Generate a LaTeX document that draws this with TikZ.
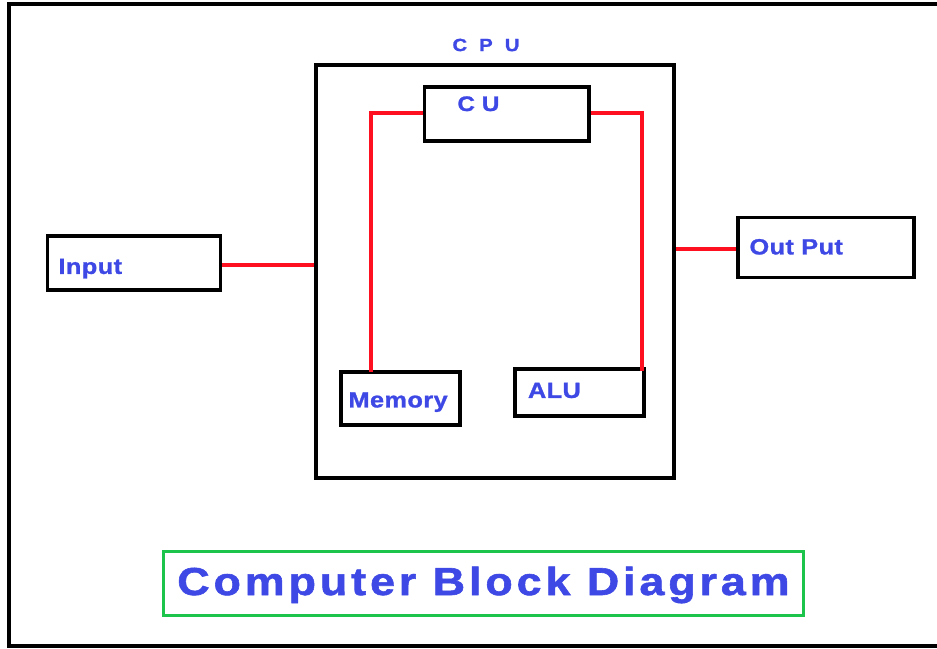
\documentclass[tikz,border=0pt]{standalone}
\usepackage{fontspec}
\setmainfont{Liberation Sans}
\newfontfamily\lblfont[LetterSpace=2, FakeStretch=1.15, FakeBold=1.2]{Liberation Sans}
\newfontfamily\ttlfont[LetterSpace=10, FakeStretch=1.15, FakeBold=1.5]{Liberation Sans}
\usetikzlibrary{calc}

\definecolor{lblblue}{RGB}{62,72,228}
\definecolor{ttlgreen}{RGB}{28,196,76}
\definecolor{wirered}{RGB}{255,16,32}

\begin{document}
\begin{tikzpicture}[x=1pt, y=-1pt,
    every node/.style={font=\lblfont\bfseries\fontsize{22}{24}\selectfont, text=lblblue},
    blk/.style={draw, line width=3.5pt, align=left, text depth=0pt},
    wire/.style={draw=wirered, line width=3.8pt}]
    \useasboundingbox (0,0) rectangle (937,648);
    % outer frame (right side runs off the picture)
    \draw[line width=4pt] (8.7,3.7) rectangle (960,646);

    \node[blk, minimum width=358pt, minimum height=413pt] (cpu) at (495,271.5) {};
    \node[font=\lblfont\bfseries\fontsize{17.7}{20}\selectfont] (cpulbl) at (486,45) {C~~P~~U};

    \node[blk, minimum width=164.5pt, minimum height=54pt, inner xsep=33pt, text width=98.5pt, text height=0pt, text depth=6pt,
      font=\lblfont\bfseries\fontsize{21}{24}\selectfont] (cu) at (506.75,114) {C U};
    \node[blk, minimum width=173pt, minimum height=54pt, inner xsep=11pt, text width=151pt, text height=21.8pt] (inp) at (134,263) {Input};
    \node[blk, minimum width=176pt, minimum height=60pt, inner xsep=11.5pt, text width=153pt, text height=13.8pt] (out) at (826,247.5) {Out Put};
    \node[blk, minimum width=119pt, minimum height=53pt, inner xsep=7.5pt, text width=104pt, text height=17.8pt] (mem) at (400.5,398.5) {Memory};
    \node[blk, minimum width=129pt, minimum height=47pt, inner xsep=13pt, text width=103pt, text height=10.8pt] (alu) at (579.5,392.5) {ALU};

    \node[draw=ttlgreen, line width=3pt, minimum width=640pt, minimum height=64pt, inner sep=0pt, text height=23pt, text depth=0pt,
      font=\ttlfont\bfseries\fontsize{39}{42}\selectfont] (title) at (483.5,583.5) {Computer Block Diagram};

    \draw[wire] ([yshift=-2pt]inp.east) -- ([yshift=-2pt]inp.east -| cpu.west);
    \draw[wire] ([yshift=-1.5pt]out.west -| cpu.east) -- ([yshift=-1.5pt]out.west);
    \draw[wire] ([yshift=1pt]cu.west) -| ([xshift=32pt, yshift=-2pt]mem.north west);
    \draw[wire] ([yshift=1pt]cu.east) -| ([xshift=-4pt, yshift=-4pt]alu.north east);
\end{tikzpicture}
\end{document}
